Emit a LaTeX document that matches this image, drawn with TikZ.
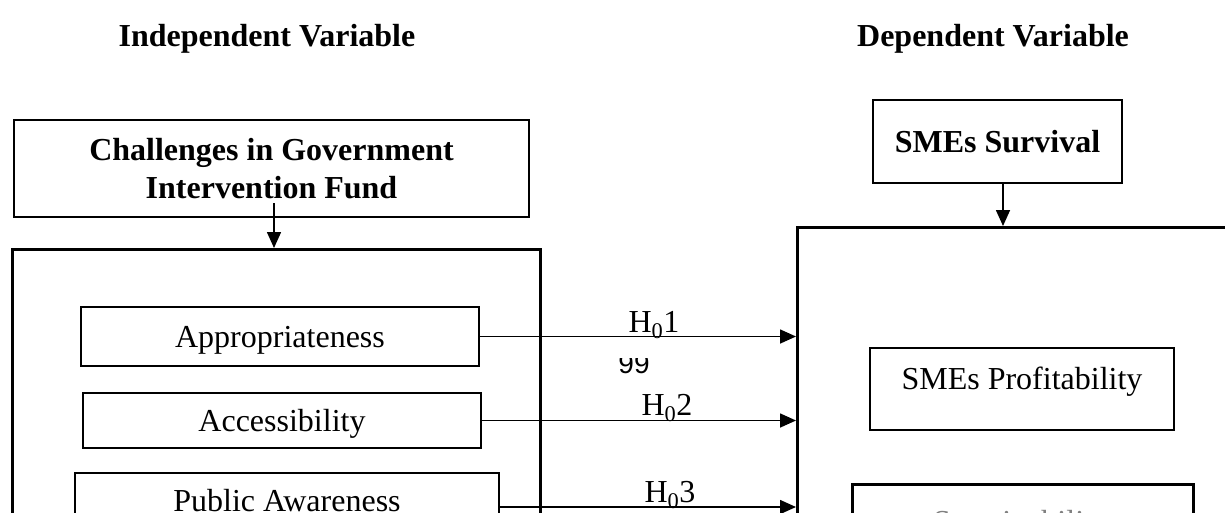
\documentclass[tikz,border=0pt]{standalone}
\usepackage{fontspec}
\setmainfont{Liberation Serif}
\newfontfamily\sansf{Liberation Sans}
\usetikzlibrary{arrows.meta}
\newcommand\fsz{\fontsize{32}{38}\selectfont}
\begin{document}
\begin{tikzpicture}[x=1pt,y=-1pt,
  boxst/.style={draw, line width=2.6pt, inner sep=0pt, align=center, font=\fsz},
  txt/.style={inner sep=0pt, anchor=base, font=\fsz},
  arr/.style={line width=1.6pt, -{Triangle[length=16pt,width=14pt]}}]
\useasboundingbox[fill=white] (0,0) rectangle (1225,512);
% titles
\node[txt, font=\fsz\bfseries] (tind) at (267,46) {Independent Variable};
\node[txt, font=\fsz\bfseries] (tdep) at (993,46) {Dependent Variable};
% left side
\node[boxst, font=\fsz\bfseries, minimum width=515pt, minimum height=97pt] (chal) at (271.5,168.5) {Challenges in Government\\Intervention Fund};
\node[boxst, minimum width=528pt, minimum height=320pt, anchor=north west] (lbig) at (11,248) {};
\node[boxst, text depth=0pt, minimum width=398pt, minimum height=59pt] (app) at (280,336.5) {Appropriateness};
\node[boxst, text depth=0pt, minimum width=398pt, minimum height=55pt] (acc) at (282,420.5) {Accessibility};
\node[boxst, minimum width=424pt, minimum height=68pt] (pub) at (287,507) {};
\node[txt] (pubt) at (287,511) {Public Awareness};
% right side
\node[boxst, font=\fsz\bfseries, minimum width=249pt, minimum height=83pt] (surv) at (997.5,141.5) {SMEs Survival};
\node[boxst, minimum width=480pt, minimum height=340pt, anchor=north west] (rbig) at (796,226) {};
\node[boxst, minimum width=304pt, minimum height=82pt] (prof) at (1022,389) {};
\node[txt] (proft) at (1022,389) {SMEs Profitability};
\node[boxst, minimum width=341pt, minimum height=70pt, anchor=north west] (sust) at (851,483) {};
\node[txt, text=gray] (sustt) at (1021,532) {Sustainability};
% vertical arrows
\coordinate (c1) at (274,203);
\draw[arr] (c1) -- (c1 |- lbig.north);
\coordinate (c2) at (1003,183);
\draw[arr] (c2) -- (c2 |- rbig.north);
% hypothesis arrows
\draw[arr] (app.east) -- (app.east -| rbig.west);
\draw[arr] (acc.east) -- (acc.east -| rbig.west);
\draw[arr] (pub.east) -- (pub.east -| rbig.west);
\node[txt] (h1) at (654,332) {H\textsubscript{0}1};
\node[txt] (h2) at (667,415) {H\textsubscript{0}2};
\node[txt] (h3) at (670,502) {H\textsubscript{0}3};
\begin{scope}
\clip (600,358) rectangle (670,380);
\node[inner sep=0pt, anchor=base, font=\sansf\fontsize{28}{28}\selectfont] (n99) at (634,373) {99};
\end{scope}
\end{tikzpicture}
\end{document}
